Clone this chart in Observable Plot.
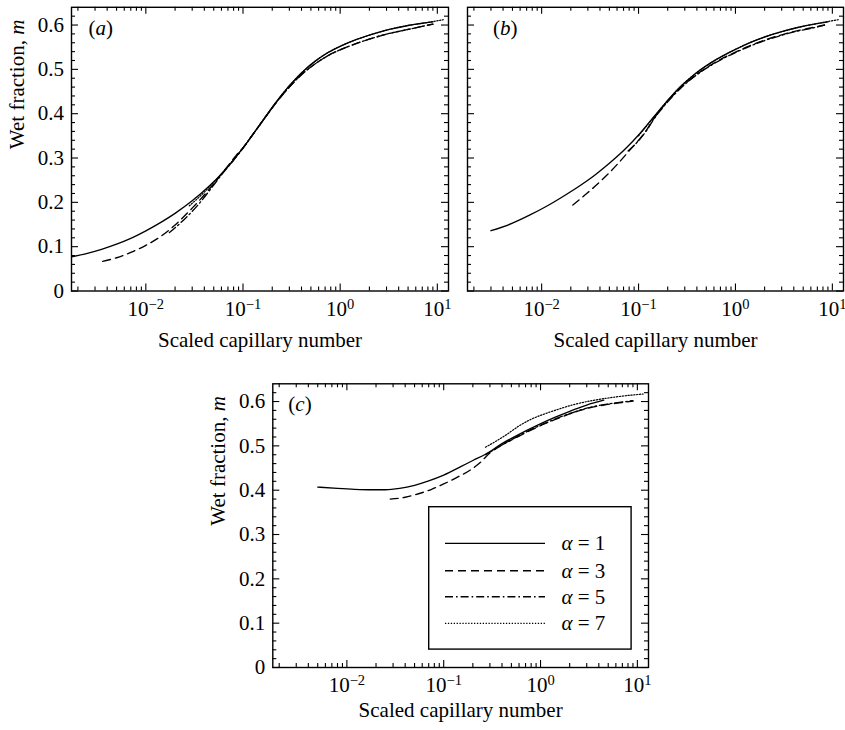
<!DOCTYPE html>
<html><head><meta charset="utf-8">
<script src="https://cdn.jsdelivr.net/npm/d3@7"></script>
<script src="https://cdn.jsdelivr.net/npm/@observablehq/plot@0.6"></script>
<style>
html,body{margin:0;padding:0;background:#fff;}
#root{position:relative;width:845px;height:730px;overflow:hidden;background:#fff;}
.panel{position:absolute;}
</style></head><body><div id="root"></div>
<script>
// ---------- data ----------
const alphas = [1, 3, 5, 7];

// panel (a)
const xA1 = [0.00172, 0.0025, 0.0035, 0.005, 0.007, 0.01, 0.015, 0.02, 0.03, 0.045, 0.06, 0.08, 0.1, 0.13, 0.17, 0.22, 0.3, 0.4, 0.55, 0.75, 1, 1.5, 2.2, 3.2, 5, 7, 9];
const mA1 = [0.077, 0.085, 0.094, 0.1056, 0.1187, 0.1357, 0.1577, 0.1752, 0.2034, 0.2368, 0.2643, 0.2956, 0.3227, 0.3569, 0.3929, 0.4265, 0.463, 0.492, 0.518, 0.538, 0.552, 0.568, 0.580, 0.590, 0.599, 0.604, 0.607];
const xA3 = [0.0036, 0.005, 0.007, 0.01, 0.014, 0.02, 0.03, 0.042, 0.055, 0.067, 0.085, 0.1, 0.13, 0.17, 0.22, 0.3, 0.4, 0.55, 0.75, 1, 1.5, 2.2, 3.2, 5, 7, 9];
const mA3 = [0.067, 0.075, 0.087, 0.103, 0.122, 0.149, 0.187, 0.222, 0.253, 0.277, 0.306, 0.323, 0.357, 0.392, 0.425, 0.460, 0.488, 0.512, 0.531, 0.544, 0.559, 0.571, 0.581, 0.590, 0.597, 0.602];
const xA5 = [0.0175, 0.025, 0.035, 0.045, 0.06, 0.08, 0.1, 0.13, 0.17, 0.22, 0.3, 0.4, 0.55, 0.75, 1, 1.5, 2.2, 3.2, 5, 7, 9];
const mA5 = [0.132, 0.162, 0.196, 0.226, 0.262, 0.295, 0.322, 0.357, 0.392, 0.425, 0.460, 0.488, 0.512, 0.531, 0.544, 0.559, 0.571, 0.581, 0.590, 0.597, 0.602];
const xA7 = [0.028, 0.04, 0.055, 0.075, 0.1, 0.13, 0.17, 0.22, 0.3, 0.4, 0.55, 0.75, 1, 1.5, 2.2, 3.2, 5, 7.5, 11.5];
const mA7 = [0.192, 0.223, 0.255, 0.289, 0.323, 0.357, 0.393, 0.4265, 0.463, 0.492, 0.518, 0.538, 0.552, 0.568, 0.580, 0.590, 0.599, 0.605, 0.612];

// panel (b)
const xB1 = [0.003, 0.005, 0.0075, 0.011, 0.016, 0.025, 0.035, 0.05, 0.075, 0.1, 0.14, 0.2, 0.28, 0.4, 0.6, 1, 1.4, 2, 3, 4.5, 6.5, 9];
const mB1 = [0.136, 0.153, 0.171, 0.190, 0.211, 0.238, 0.2606, 0.288, 0.323, 0.352, 0.390, 0.430, 0.464, 0.493, 0.519, 0.545, 0.560, 0.573, 0.585, 0.595, 0.602, 0.607];
const xB3 = [0.021, 0.03, 0.045, 0.06, 0.08, 0.1, 0.12, 0.14, 0.2, 0.28, 0.4, 0.6, 1, 1.4, 2, 3, 4.5, 6.5, 8.3];
const mB3 = [0.194, 0.222, 0.257, 0.285, 0.316, 0.340, 0.362, 0.385, 0.428, 0.461, 0.489, 0.514, 0.539, 0.553, 0.566, 0.578, 0.588, 0.595, 0.600];
const xB5 = [0.078, 0.1, 0.12, 0.14, 0.2, 0.28, 0.4, 0.6, 1, 1.4, 2, 3, 4.5, 6.5, 8.3];
const mB5 = [0.316, 0.339, 0.361, 0.384, 0.427, 0.460, 0.488, 0.513, 0.538, 0.552, 0.565, 0.577, 0.587, 0.594, 0.600];
const xB7 = [0.1, 0.14, 0.2, 0.28, 0.4, 0.6, 1, 1.4, 2, 3, 4.5, 6.5, 9, 11.5];
const mB7 = [0.350, 0.389, 0.430, 0.464, 0.493, 0.519, 0.545, 0.560, 0.573, 0.585, 0.595, 0.602, 0.608, 0.612];

// panel (c)
const xC1 = [0.005, 0.008, 0.012, 0.018, 0.025, 0.035, 0.05, 0.07, 0.1, 0.15, 0.2, 0.27, 0.4, 0.6, 0.9, 1.4, 2, 3, 4.5];
const mC1 = [0.407, 0.404, 0.402, 0.401, 0.401, 0.404, 0.411, 0.421, 0.434, 0.453, 0.467, 0.481, 0.505, 0.526, 0.545, 0.564, 0.578, 0.592, 0.603];
const xC3 = [0.028, 0.04, 0.055, 0.075, 0.1, 0.14, 0.19, 0.24, 0.3, 0.4, 0.6, 0.9, 1.4, 2, 3, 4.5, 6.5, 9];
const mC3 = [0.380, 0.384, 0.392, 0.402, 0.414, 0.430, 0.446, 0.463, 0.484, 0.502, 0.522, 0.541, 0.559, 0.572, 0.584, 0.592, 0.597, 0.601];
const xC5 = [0.27, 0.4, 0.6, 0.9, 1.4, 2, 3, 4.5, 6.5, 9];
const mC5 = [0.480, 0.502, 0.523, 0.542, 0.560, 0.573, 0.585, 0.593, 0.598, 0.602];
const xC7 = [0.27, 0.35, 0.45, 0.6, 0.8, 1.1, 1.5, 2.2, 3.2, 5, 7.5, 11.5];
const mC7 = [0.497, 0.511, 0.526, 0.545, 0.560, 0.572, 0.582, 0.593, 0.601, 0.608, 0.613, 0.617];

// ticks & labels
const xMajor = [0.01, 0.1, 1, 10];
const xTickLabels = ["10^\u22122", "10^\u22121", "10^0", "10^1"];
const yMajor = [0, 0.1, 0.2, 0.3, 0.4, 0.5, 0.6];
const yTickLabels = ["0", "0.1", "0.2", "0.3", "0.4", "0.5", "0.6"];
const xTitle = "Scaled capillary number";
const yTitle = "Wet fraction, _m";
const panelTags = ["(_a_)", "(_b_)", "(_c_)"];

// ---------- rendering ----------
const FONT = '"Liberation Serif", "Times New Roman", Times, serif';
const xDomain = [Math.pow(10, -2.765), Math.pow(10, 1.115)];
const yDomain = [0, 0.64];
const xMinor = [];
for (let e = -3; e <= 1; e++) for (let k = 2; k <= 9; k++) { const v = k * Math.pow(10, e); if (v >= xDomain[0] && v <= xDomain[1]) xMinor.push(v); }
const yMinor = [];
for (let i = 1; i <= 31; i++) if (i % 5 !== 0) yMinor.push(i * 0.02);

const dashes = { 1: null, 3: "8,5", 5: "8,3,1.6,3", 7: "1.3,1.6" };

function toRows(xs, ms) { return xs.map((x, i) => ({ x, m: ms[i] })); }

function richify(svg) {
  const ns = "http://www.w3.org/2000/svg";
  svg.querySelectorAll("text").forEach(t => {
    if (t.querySelector("tspan")) return;
    const s = t.textContent;
    if (s.includes("^")) {
      const [b, e] = s.split("^");
      t.textContent = b;
      const sp = document.createElementNS(ns, "tspan");
      sp.setAttribute("font-size", "14.5");
      sp.setAttribute("dy", "-7");
      sp.textContent = e;
      t.appendChild(sp);
    } else if (s.includes("_")) {
      const parts = s.split("_");
      t.textContent = "";
      parts.forEach((p, i) => {
        if (!p) return;
        const sp = document.createElementNS(ns, "tspan");
        if (i % 2) sp.setAttribute("font-style", "italic");
        sp.textContent = p;
        t.appendChild(sp);
      });
    }
  });
}

function panel(cfg) {
  const { left, top, width, height, mL, mR, mT, mB, series, showY, tag, tagDx, tickDy, xTitleDy } = cfg;
  const fw = width - mL - mR, fh = height - mT - mB;
  const tk = { stroke: "black", strokeWidth: 1.1 };
  const marks = [
    Plot.ruleX(xMajor, { x: d => d, insetTop: fh - 7, ...tk }),
    Plot.ruleX(xMajor, { x: d => d, insetBottom: fh - 7, ...tk }),
    Plot.ruleX(xMinor, { x: d => d, insetTop: fh - 4, ...tk }),
    Plot.ruleX(xMinor, { x: d => d, insetBottom: fh - 4, ...tk }),
    Plot.ruleY(yMajor, { y: d => d, insetRight: fw - 7, ...tk }),
    Plot.ruleY(yMajor, { y: d => d, insetLeft: fw - 7, ...tk }),
    Plot.ruleY(yMinor, { y: d => d, insetRight: fw - 4, ...tk }),
    Plot.ruleY(yMinor, { y: d => d, insetLeft: fw - 4, ...tk }),
    Plot.frame({ stroke: "black", strokeWidth: 1.4 })
  ];
  series.forEach(([xs, ms], i) => {
    const a = alphas[i];
    marks.push(Plot.line(toRows(xs, ms), {
      x: "x", y: "m", curve: "monotone-x", stroke: "black",
      strokeWidth: a === 7 ? 1.2 : 1.35, strokeDasharray: dashes[a]
    }));
  });
  marks.push(
    Plot.text(xMajor, { x: d => d, text: (d, i) => xTickLabels[i], frameAnchor: "bottom", dy: tickDy, lineAnchor: "bottom", fontSize: 21, fill: "black" }),
    Plot.text([xTitle], { text: d => d, frameAnchor: "bottom", dy: xTitleDy, lineAnchor: "bottom", fontSize: 21, fill: "black" }),
    Plot.text([tag], { text: d => d, frameAnchor: "top-left", dx: tagDx, dy: 27.5, textAnchor: "start", lineAnchor: "bottom", fontSize: 21, fill: "black" })
  );
  if (showY) {
    marks.push(
      Plot.text(yMajor, { y: d => d, text: (d, i) => yTickLabels[i], frameAnchor: "left", dx: -7.5, textAnchor: "end", fontSize: 21, fill: "black" }),
      Plot.text([yTitle], { text: d => d, frameAnchor: "left", rotate: -90, dx: -48, lineAnchor: "bottom", fontSize: 21, fill: "black" })
    );
  }
  const svg = Plot.plot({
    width, height, marginLeft: mL, marginRight: mR, marginTop: mT, marginBottom: mB,
    x: { type: "log", domain: xDomain, axis: null },
    y: { domain: yDomain, axis: null },
    style: { fontFamily: FONT, background: "transparent", color: "black", overflow: "visible" },
    marks
  });
  richify(svg);
  const div = document.createElement("div");
  div.className = "panel";
  div.style.left = left + "px";
  div.style.top = top + "px";
  div.appendChild(svg);
  document.getElementById("root").appendChild(div);
}

panel({ left: 0, top: 0, width: 450, height: 355, mL: 71, mR: 2, mT: 6.8, mB: 64.5,
  series: [[xA1, mA1], [xA3, mA3], [xA5, mA5], [xA7, mA7]], showY: true, tag: panelTags[0], tagDx: 17, tickDy: 25, xTitleDy: 55.5 });
panel({ left: 450, top: 0, width: 395, height: 355, mL: 17, mR: 2, mT: 6.8, mB: 64.5,
  series: [[xB1, mB1], [xB3, mB3], [xB5, mB5], [xB7, mB7]], showY: false, tag: panelTags[1], tagDx: 25.5, tickDy: 25, xTitleDy: 55.5 });
panel({ left: 190, top: 360, width: 460, height: 370, mL: 82.3, mR: 2, mT: 23.3, mB: 63,
  series: [[xC1, mC1], [xC3, mC3], [xC5, mC5], [xC7, mC7]], showY: true, tag: panelTags[2], tagDx: 15.5, tickDy: 24, xTitleDy: 49 });

// legend for panel (c)
(function () {
  const W = 204, H = 144;
  const svg = d3.create("svg").attr("width", W).attr("height", H)
    .style("position", "absolute").style("left", "428px").style("top", "506px")
    .style("font-family", FONT);
  svg.append("rect").attr("x", 0.7).attr("y", 0.7).attr("width", 202.4).attr("height", 142.4)
    .attr("fill", "white").attr("stroke", "black").attr("stroke-width", 1.4);
  const rowY = [37.3, 64.7, 90.7, 117.3];
  alphas.forEach((a, i) => {
    svg.append("line").attr("x1", 17).attr("x2", 117).attr("y1", rowY[i]).attr("y2", rowY[i])
      .attr("stroke", "black").attr("stroke-width", a === 7 ? 1.2 : 1.35)
      .attr("stroke-dasharray", dashes[a]);
    const t = svg.append("text").attr("x", 133.5).attr("y", rowY[i] + 7).attr("font-size", 21).attr("fill", "black");
    t.append("tspan").attr("font-style", "italic").text("\u03b1");
    t.append("tspan").text(" = " + a);
  });
  document.getElementById("root").appendChild(svg.node());
})();
</script></body></html>
